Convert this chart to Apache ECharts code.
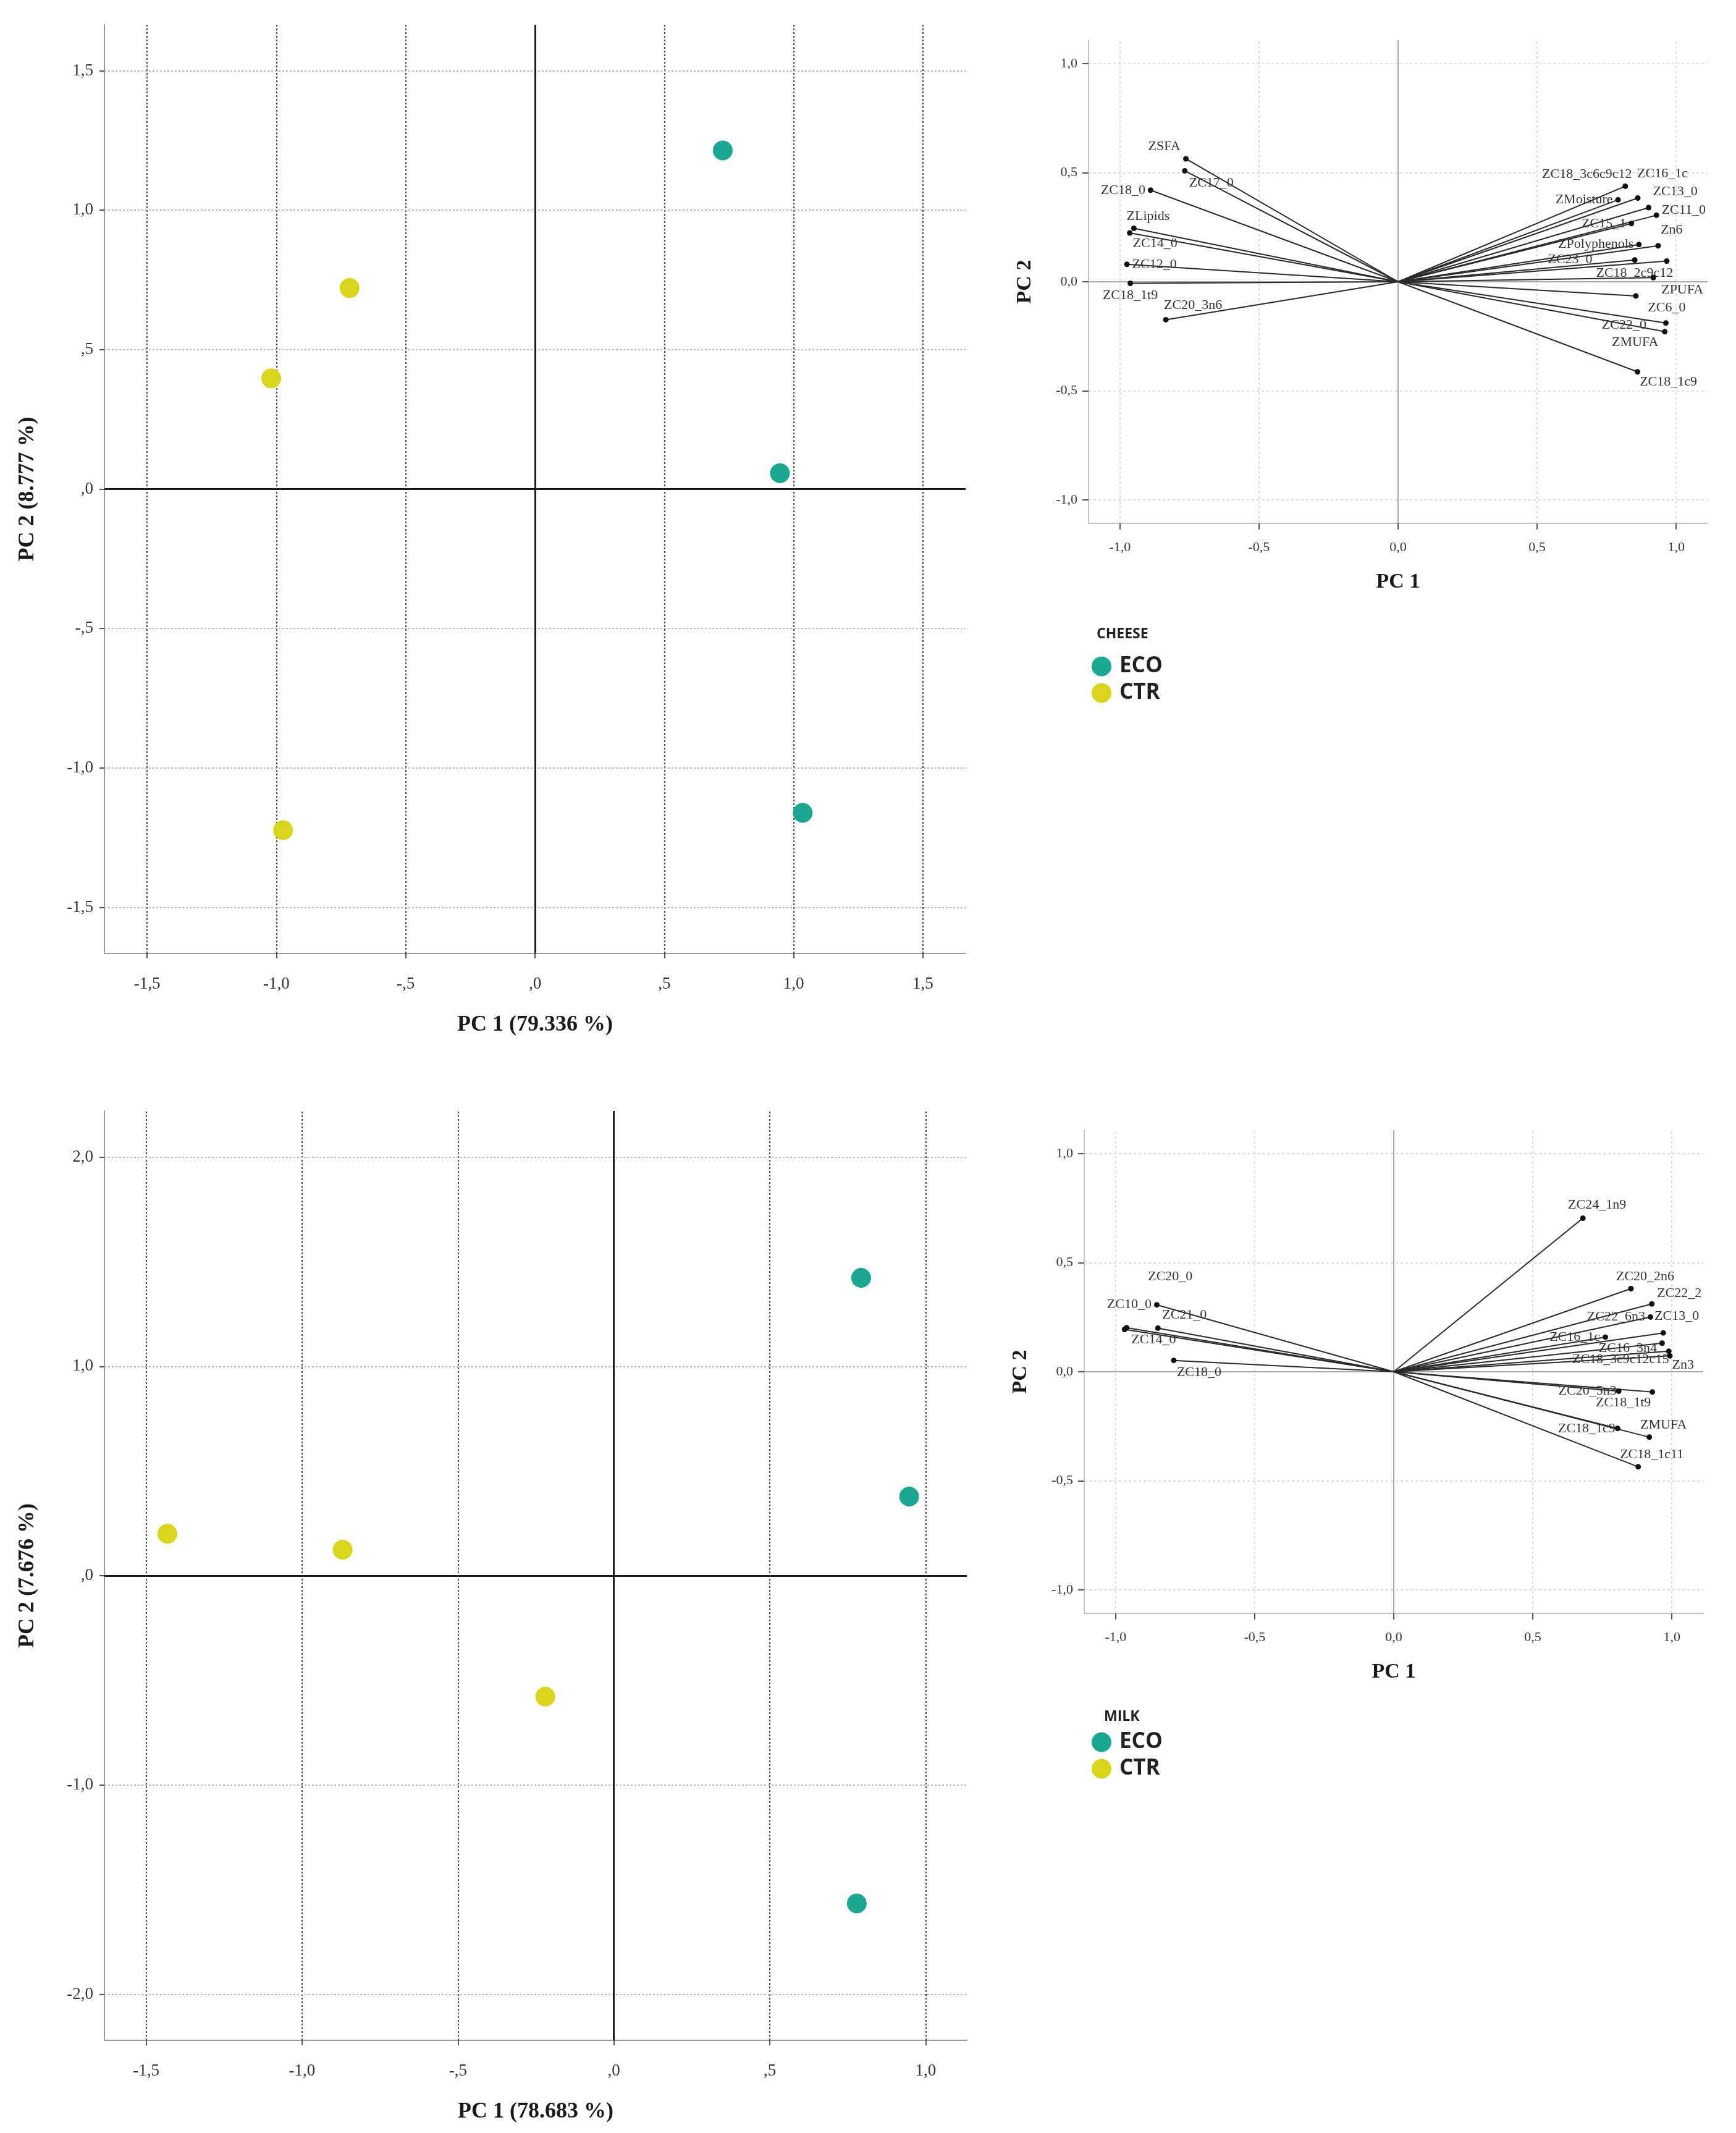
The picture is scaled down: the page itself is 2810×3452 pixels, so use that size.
<!DOCTYPE html>
<html>
<head>
<meta charset="utf-8">
<script src="https://cdn.jsdelivr.net/npm/echarts@6/dist/echarts.min.js"></script>
<style>
html,body{margin:0;padding:0;background:#fff}
#main{width:2810px;height:3452px}
</style>
</head>
<body>
<div id="main"></div>
<script>
// score plots (PC1, PC2)
var cheeseEco = [[0.726, 1.214], [0.947, 0.057], [1.035, -1.161]];
var cheeseCtr = [[-0.717, 0.721], [-1.020, 0.397], [-0.974, -1.223]];
var milkEco = [[0.793, 1.423], [0.947, 0.378], [0.779, -1.566]];
var milkCtr = [[-1.432, 0.200], [-0.870, 0.124], [-0.220, -0.578]];

// loadings, cheese
var cheeseVars = ['ZSFA', 'ZC17_0', 'ZC18_0', 'ZLipids', 'ZC14_0', 'ZC12_0', 'ZC18_1t9', 'ZC20_3n6',
    'ZC18_3c6c9c12', 'ZC16_1c', 'ZMoisture', 'ZC13_0', 'ZC11_0', 'ZC15_1', 'ZPolyphenols', 'Zn6',
    'ZC23_0', 'ZC18_2c9c12', 'ZPUFA', 'ZC6_0', 'ZC22_0', 'ZMUFA', 'ZC18_1c9'];
var cheesePc1 = [-0.763, -0.767, -0.890, -0.950, -0.965, -0.975, -0.963, -0.835,
    0.817, 0.862, 0.791, 0.901, 0.929, 0.839, 0.866, 0.935,
    0.851, 0.966, 0.918, 0.855, 0.963, 0.959, 0.861];
var cheesePc2 = [0.564, 0.509, 0.420, 0.245, 0.224, 0.080, -0.007, -0.174,
    0.438, 0.384, 0.376, 0.340, 0.305, 0.267, 0.171, 0.165,
    0.100, 0.095, 0.019, -0.065, -0.189, -0.229, -0.413];

// loadings, milk
var milkVars = ['ZC10_0', 'ZC20_0', 'ZC21_0', 'ZC14_0', 'ZC18_0',
    'ZC24_1n9', 'ZC20_2n6', 'ZC22_2', 'ZC22_6n3', 'ZC13_0', 'ZC16_1c', 'ZC16_3n4',
    'ZC18_3c9c12c15', 'Zn3', 'ZC20_5n3', 'ZC18_1t9', 'ZC18_1c9', 'ZMUFA', 'ZC18_1c11'];
var milkPc1 = [-0.852, -0.968, -0.848, -0.961, -0.791,
    0.680, 0.853, 0.928, 0.923, 0.969, 0.761, 0.965,
    0.989, 0.993, 0.809, 0.930, 0.805, 0.919, 0.879];
var milkPc2 = [0.307, 0.194, 0.200, 0.202, 0.052,
    0.704, 0.381, 0.311, 0.251, 0.178, 0.159, 0.131,
    0.094, 0.073, -0.089, -0.093, -0.260, -0.300, -0.436];

// tick values and labels
var cheeseTicks = [-1.5, -1, -0.5, 0, 0.5, 1, 1.5];
var cheeseTickLabels = ['-1,5', '-1,0', '-,5', ',0', ',5', '1,0', '1,5'];
var milkTicksX = [-1.5, -1, -0.5, 0, 0.5, 1];
var milkTickLabelsX = ['-1,5', '-1,0', '-,5', ',0', ',5', '1,0'];
var milkTicksY = [-2, -1, 0, 1, 2];
var milkTickLabelsY = ['-2,0', '-1,0', ',0', '1,0', '2,0'];
var loadTicks = [-1, -0.5, 0, 0.5, 1];
var loadTickLabels = ['-1,0', '-0,5', '0,0', '0,5', '1,0'];

// where each variable name sits next to its point
var cheesePlace = {
    ZSFA: ['top', -35, 0], ZC17_0: ['bottom', 43, 0], ZC18_0: ['left', 0, 0],
    ZLipids: ['top', 23, 0], ZC14_0: ['bottom', 41, -2], ZC12_0: ['right', 0, 0],
    ZC18_1t9: ['bottom', 0, 0], ZC20_3n6: ['top', 44, -4],
    ZC18_3c6c9c12: ['top', -62, 0], ZC16_1c: ['top', 40, -20], ZC13_0: ['top', 43, -6],
    ZMoisture: ['left', 0, 0], ZC11_0: ['right', 0, -8], ZC15_1: ['left', 0, 0],
    Zn6: ['top', 22, -6], ZPolyphenols: ['left', 0, 0], ZC23_0: ['left', -60, 0],
    ZC18_2c9c12: ['bottom', -52, 0], ZPUFA: ['bottom', 47, 0], ZC6_0: ['bottom', 50, 0],
    ZC22_0: ['left', -23, 4], ZMUFA: ['bottom', -48, -2], ZC18_1c9: ['bottom', 50, -3]
};
var milkPlace = {
    ZC10_0: ['left', 0, 0], ZC20_0: ['top', 74, -66], ZC21_0: ['top', 43, -2],
    ZC14_0: ['bottom', 44, 0], ZC18_0: ['bottom', 41, 0],
    ZC24_1n9: ['top', 23, -2], ZC20_2n6: ['top', 23, 0], ZC22_2: ['right', 0, -17],
    ZC22_6n3: ['left', 0, 0], ZC13_0: ['top', 22, -7], ZC16_1c: ['left', 0, 0],
    ZC16_3n4: ['left', 0, 8], ZC18_3c9c12c15: ['bottom', -78, -6], Zn3: ['right', -5, 15],
    ZC20_5n3: ['left', 5, 0], ZC18_1t9: ['bottom', -47, -2], ZC18_1c9: ['left', 5, 0],
    ZMUFA: ['top', 23, 0], ZC18_1c11: ['top', 22, 0]
};

var ECO_COLOR = '#1ba891';
var CTR_COLOR = '#d9d41c';
var SERIF = '"Liberation Serif", "DejaVu Serif", serif';
var SANS = '"Open Sans", "Noto Sans", sans-serif';

function tickFmt(ticks, labels) {
    return function (v) {
        for (var i = 0; i < ticks.length; i++) {
            if (Math.abs(ticks[i] - v) < 1e-6) return labels[i];
        }
        return '';
    };
}

function makeAxis(grid, min, max, ticks, labels, opt) {
    return {
        gridIndex: grid, type: 'value', min: min, max: max,
        name: opt.name, nameLocation: 'middle', nameGap: opt.nameGap,
        nameTextStyle: {fontFamily: SERIF, fontWeight: 'bold', fontSize: opt.nameSize, color: '#1a1a1a'},
        axisLine: {show: true, onZero: false, lineStyle: {color: opt.lineColor, width: 2}},
        axisTick: {show: true, customValues: ticks, length: opt.tickLen, lineStyle: {color: '#555', width: 2}},
        axisLabel: {customValues: ticks, formatter: tickFmt(ticks, labels), fontFamily: SERIF,
            fontSize: opt.labelSize, color: '#333', margin: opt.margin},
        splitLine: {show: false}
    };
}

// grid lines + zero lines as mark lines, tick values from the arrays
function gridMarks(xt, yt, vStyle, hStyle, zeroStyle) {
    var d = [];
    xt.forEach(function (v) { if (v !== 0) d.push({xAxis: v, lineStyle: vStyle}); });
    yt.forEach(function (v) { if (v !== 0) d.push({yAxis: v, lineStyle: hStyle}); });
    d.push({xAxis: 0, lineStyle: zeroStyle});
    d.push({yAxis: 0, lineStyle: zeroStyle});
    return {silent: true, symbol: ['none', 'none'], label: {show: false}, z: 1, data: d};
}

function helper(grid, marks) {
    return {type: 'scatter', xAxisIndex: grid, yAxisIndex: grid, data: [], silent: true, markLine: marks};
}

function scores(grid, eco, ctr) {
    var base = {type: 'scatter', xAxisIndex: grid, yAxisIndex: grid, symbolSize: 32, z: 10};
    return [
        Object.assign({name: 'ECO', data: eco, itemStyle: {color: ECO_COLOR, opacity: 1}}, base),
        Object.assign({name: 'CTR', data: ctr, itemStyle: {color: CTR_COLOR, opacity: 1}}, base)
    ];
}

function loadings(grid, names, xs, ys, place) {
    var vec = names.map(function (n, i) { return {coords: [[0, 0], [xs[i], ys[i]]]}; });
    var pts = names.map(function (n, i) {
        var p = place[n] || ['right', 0, 0];
        return {name: n, value: [xs[i], ys[i]], label: {position: p[0], offset: [p[1], p[2]]}};
    });
    return [
        {type: 'lines', coordinateSystem: 'cartesian2d', xAxisIndex: grid, yAxisIndex: grid,
            data: vec, silent: true, z: 10,
            lineStyle: {color: '#2a2a2a', width: 2, opacity: 1, curveness: 0}},
        {type: 'scatter', xAxisIndex: grid, yAxisIndex: grid, data: pts, symbolSize: 9, z: 11,
            itemStyle: {color: '#111', opacity: 1},
            label: {show: true, formatter: '{b}', fontFamily: SERIF, fontSize: 22, color: '#333', distance: 4}}
    ];
}

var scoreV = {color: '#4a4a4a', width: 2, type: [3, 3]};
var scoreH = {color: '#b5b5b5', width: 2, type: [3, 3]};
var scoreZero = {color: '#1e1e1e', width: 3, type: 'solid'};
var loadGrid = {color: '#dcdcdc', width: 2, type: [4, 4]};
var loadZero = {color: '#a8a8a8', width: 2, type: 'solid'};

var scoreAxisX = {lineColor: '#9a9a9a', tickLen: 8, labelSize: 27, margin: 36, nameSize: 36, nameGap: 98};
var scoreAxisY = {lineColor: '#9a9a9a', tickLen: 8, labelSize: 27, margin: 18, nameSize: 36, nameGap: 106};
var loadAxisX = {lineColor: '#c4c4c4', tickLen: 10, labelSize: 22, margin: 28, nameSize: 34, nameGap: 78};
var loadAxisY = {lineColor: '#c4c4c4', tickLen: 10, labelSize: 22, margin: 18, nameSize: 34, nameGap: 86};

function withName(o, name) { return Object.assign({}, o, {name: name}); }

var option = {
    animation: false,
    backgroundColor: '#fff',
    title: [
        {text: 'CHEESE', left: 1770, top: 1010, textStyle: {fontFamily: SANS, fontWeight: 'bold', fontSize: 23, color: '#222'}},
        {text: 'MILK', left: 1782, top: 2762, textStyle: {fontFamily: SANS, fontWeight: 'bold', fontSize: 23, color: '#222'}}
    ],
    legend: [
        {data: ['ECO', 'CTR'], orient: 'vertical', left: 1762, top: 1056, icon: 'circle',
            itemWidth: 32, itemHeight: 32, itemGap: 8, selectedMode: false,
            textStyle: {fontFamily: SANS, fontWeight: 'bold', fontSize: 35, color: '#222', padding: [0, 0, 0, 8]}},
        {data: ['ECO', 'CTR'], orient: 'vertical', left: 1762, top: 2797, icon: 'circle',
            itemWidth: 32, itemHeight: 32, itemGap: 8, selectedMode: false,
            textStyle: {fontFamily: SANS, fontWeight: 'bold', fontSize: 35, color: '#222', padding: [0, 0, 0, 8]}}
    ],
    grid: [
        {left: 169, top: 40, width: 1394, height: 1503},
        {left: 1762, top: 65, width: 1002, height: 782},
        {left: 169, top: 1798, width: 1396, height: 1504},
        {left: 1755, top: 1829, width: 1002, height: 782}
    ],
    xAxis: [
        makeAxis(0, -1.665, 1.665, cheeseTicks, cheeseTickLabels, withName(scoreAxisX, 'PC 1 (79.336 %)')),
        makeAxis(1, -1.113, 1.113, loadTicks, loadTickLabels, withName(loadAxisX, 'PC 1')),
        makeAxis(2, -1.634, 1.132, milkTicksX, milkTickLabelsX, withName(scoreAxisX, 'PC 1 (78.683 %)')),
        makeAxis(3, -1.113, 1.113, loadTicks, loadTickLabels, withName(loadAxisX, 'PC 1'))
    ],
    yAxis: [
        makeAxis(0, -1.665, 1.665, cheeseTicks, cheeseTickLabels, withName(scoreAxisY, 'PC 2 (8.777 %)')),
        makeAxis(1, -1.108, 1.108, loadTicks, loadTickLabels, withName(loadAxisY, 'PC 2')),
        makeAxis(2, -2.22, 2.22, milkTicksY, milkTickLabelsY, withName(scoreAxisY, 'PC 2 (7.676 %)')),
        makeAxis(3, -1.108, 1.108, loadTicks, loadTickLabels, withName(loadAxisY, 'PC 2'))
    ],
    series: [].concat(
        [helper(0, gridMarks(cheeseTicks, cheeseTicks, scoreV, scoreH, scoreZero))],
        scores(0, cheeseEco, cheeseCtr),
        [helper(1, gridMarks(loadTicks, loadTicks, loadGrid, loadGrid, loadZero))],
        loadings(1, cheeseVars, cheesePc1, cheesePc2, cheesePlace),
        [helper(2, gridMarks(milkTicksX, milkTicksY, scoreV, scoreH, scoreZero))],
        scores(2, milkEco, milkCtr),
        [helper(3, gridMarks(loadTicks, loadTicks, loadGrid, loadGrid, loadZero))],
        loadings(3, milkVars, milkPc1, milkPc2, milkPlace)
    )
};

var chart = echarts.init(document.getElementById('main'));
chart.setOption(option);
</script>
</body>
</html>
